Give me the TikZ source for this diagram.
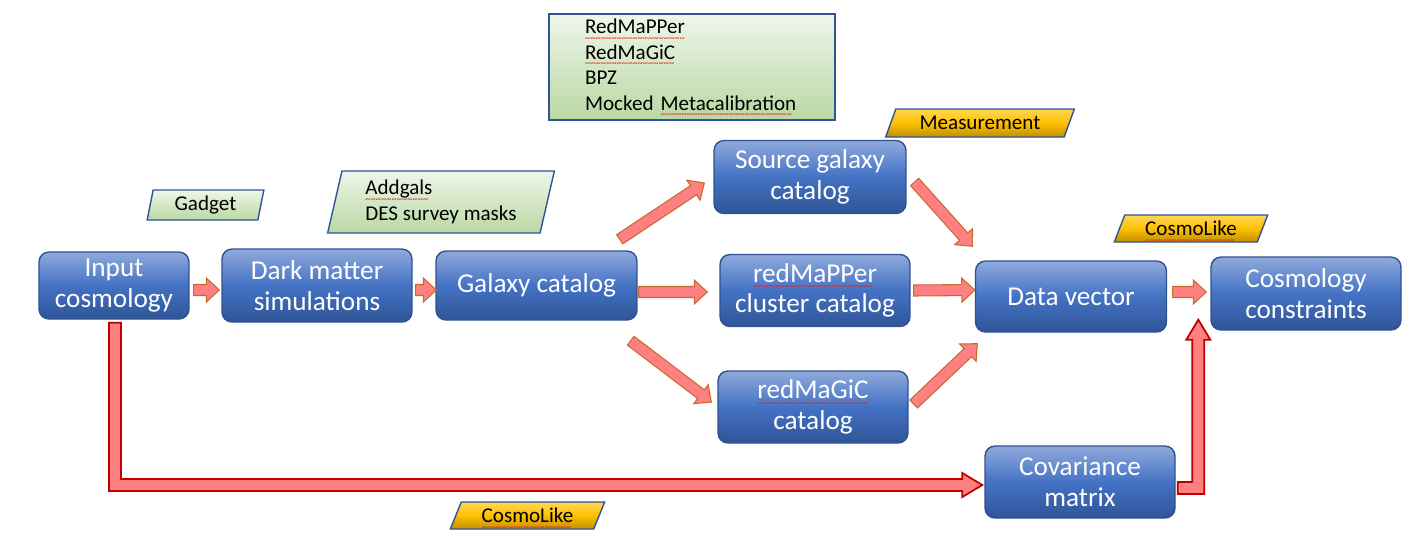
\documentclass[tikz,border=0pt]{standalone}
\usepackage{fontspec}
\setmainfont{Carlito}
\usetikzlibrary{shapes.geometric, calc}

\definecolor{boxtop}{HTML}{8FAADC}
\definecolor{boxmid}{HTML}{4472C4}
\definecolor{boxbot}{HTML}{2F5597}
\definecolor{boxedge}{HTML}{2F528F}
\definecolor{tagedge}{HTML}{2F5597}
\definecolor{greentop}{HTML}{EFF6EA}
\definecolor{greenbot}{HTML}{B9D8A3}
\definecolor{goldtop}{HTML}{FFD755}
\definecolor{goldmid}{HTML}{FFC000}
\definecolor{goldbot}{HTML}{BF8F00}
\definecolor{arrowfill}{HTML}{FF8080}
\definecolor{arrowedge}{HTML}{C86A30}
\definecolor{elbowedge}{HTML}{C00000}
\definecolor{spellred}{HTML}{E02020}

% spell-check wave under a word
\newsavebox{\spellbox}
\newcommand{\spellmark}[1]{%
    \sbox{\spellbox}{#1}%
    \rlap{\raisebox{-4.2pt}[0pt][0pt]{\color{spellred}\fontsize{6}{6}\selectfont
        \leaders\hbox{\textasciitilde}\hskip\wd\spellbox}}%
    \usebox{\spellbox}}

% straight block arrow: [style]{from}{to}
\newcommand{\bashaft}{0.11cm}
\newcommand{\bahead}{0.24cm}
\newcommand{\balen}{0.26cm}
\newcommand{\blockarrow}[3][fatarrow]{%
    \path (#2) coordinate (ba-s) (#3) coordinate (ba-e);
    \path ($(ba-e)!\balen!(ba-s)$) coordinate (ba-h);
    \draw[#1] ($(ba-s)!\bashaft!90:(ba-e)$)
        -- ($(ba-h)!\bashaft!90:(ba-e)$)
        -- ($(ba-h)!\bahead!90:(ba-e)$)
        -- (ba-e)
        -- ($(ba-h)!\bahead!-90:(ba-e)$)
        -- ($(ba-h)!\bashaft!-90:(ba-e)$)
        -- ($(ba-s)!\bashaft!-90:(ba-e)$) -- cycle;
}

% block arrow with one right-angle bend: [style]{from}{|- or -|}{to}
\newcommand{\eashaft}{0.12cm}
\newcommand{\eahead}{0.24cm}
\newcommand{\ealen}{0.4cm}
\newcommand{\elbowarrow}[4][elbow]{%
    \path (#2) coordinate (ea-s) (#4) coordinate (ea-e);
    \path (ea-s #3 ea-e) coordinate (ea-c);
    \path ($(ea-e)!\ealen!(ea-c)$) coordinate (ea-h);
    \draw[#1] ($(ea-s)!\eashaft!90:(ea-c)$)
        -- ($(ea-c)!\eashaft!-90:(ea-s) + (ea-c)!\eashaft!90:(ea-e) - (ea-c)$)
        -- ($(ea-h)!\eashaft!90:(ea-e)$)
        -- ($(ea-h)!\eahead!90:(ea-e)$)
        -- (ea-e)
        -- ($(ea-h)!\eahead!-90:(ea-e)$)
        -- ($(ea-h)!\eashaft!-90:(ea-e)$)
        -- ($(ea-c)!\eashaft!90:(ea-s) + (ea-c)!\eashaft!-90:(ea-e) - (ea-c)$)
        -- ($(ea-s)!\eashaft!-90:(ea-c)$) -- cycle;
}

\begin{document}
\begin{tikzpicture}[
    x=0.02cm, y=-0.02cm, % one unit is one pixel of the layout
    % Styles
    box/.style={ % blue process box
        rectangle,
        rounded corners=2mm,
        draw=boxedge,
        line width=0.8pt,
        top color=boxtop,
        bottom color=boxbot,
        middle color=boxmid,
        text=white,
        font=\fontsize{15.5}{17.5}\selectfont,
        align=center,
        inner sep=0pt
    },
    tag/.style={ % slanted label
        trapezium,
        trapezium stretches=true,
        draw=tagedge,
        line width=0.8pt,
        font=\fontsize{12}{14.6}\selectfont,
        inner sep=0pt
    },
    greentag/.style={
        tag,
        top color=greentop,
        bottom color=greenbot
    },
    goldtag/.style={
        tag,
        top color=goldtop,
        bottom color=goldbot,
        middle color=goldmid
    },
    greenbox/.style={ % list of codes
        rectangle,
        draw=tagedge,
        line width=1pt,
        top color=greentop,
        bottom color=greenbot,
        font=\fontsize{12}{14.6}\selectfont,
        align=left
    },
    fatarrow/.style={
        fill=arrowfill,
        draw=arrowedge,
        line width=0.6pt,
        line join=miter
    },
    elbow/.style={
        fill=arrowfill,
        draw=elbowedge,
        line width=1pt,
        line join=miter
    }
]
    \useasboundingbox (0,0) rectangle (1412,549);

    % Pipeline boxes
    \node[box, minimum width=3.0cm, minimum height=1.34cm] (inp) at (114,285.5) {Input\\cosmology};
    \node[box, minimum width=3.8cm, minimum height=1.46cm] (dms) at (317,285.5) {Dark matter\\simulations};
    \node[box, minimum width=4.02cm, minimum height=1.38cm] (gal) at (536.5,285.5) {Galaxy catalog};
    \node[box, minimum width=3.84cm, minimum height=1.46cm] (src) at (810,177) {Source galaxy\\catalog};
    \node[box, minimum width=3.8cm, minimum height=1.44cm] (rmp) at (815,290.5) {\spellmark{redMaPPer}\\cluster catalog};
    \node[box, minimum width=3.8cm, minimum height=1.44cm] (rmg) at (813,407) {\spellmark{redMaGiC}\\catalog};
    \node[box, minimum width=3.82cm, minimum height=1.42cm] (dv) at (1071,296.5) {Data vector};
    \node[box, minimum width=3.8cm, minimum height=1.46cm] (cc) at (1306,293.5) {Cosmology\\constraints};
    \node[box, minimum width=3.8cm, minimum height=1.44cm] (cov) at (1080,482) {Covariance\\matrix};

    % Tool labels
    \node[greentag, trapezium left angle=79, trapezium right angle=101,
        minimum width=2.34cm, minimum height=0.6cm] (gadget) at (205.5,205) {Gadget};
    \node[greentag, trapezium left angle=76, trapezium right angle=104,
        minimum width=4.56cm, minimum height=1.24cm, align=left] (addgals) at (441,202)
        {\spellmark{Addgals}\\DES survey masks};
    \node[greenbox, text width=5.0cm, inner xsep=0.36cm, inner ysep=0pt, minimum height=2.12cm] (codes) at (692,67)
        {\begin{tabular}{@{\hspace{0.36cm}}l@{}}
            \spellmark{RedMaPPer}\\
            \spellmark{RedMaGiC}\\
            BPZ\\
            Mocked \spellmark{Metacalibration}
        \end{tabular}};
    \node[goldtag, trapezium left angle=62, trapezium right angle=118,
        minimum width=3.8cm, minimum height=0.56cm] (meas) at (980,123) {Measurement};
    \node[goldtag, trapezium left angle=64, trapezium right angle=116,
        minimum width=3.08cm, minimum height=0.54cm] (cl1) at (1191,228.5) {\spellmark{CosmoLike}};
    \node[goldtag, trapezium left angle=63, trapezium right angle=117,
        minimum width=3.1cm, minimum height=0.54cm] (cl2) at (527.5,515.5) {\spellmark{CosmoLike}};

    % Simulation chain
    \blockarrow{[shift={(4,4.5)}]inp.east}{[shift={(-2,4.5)}]dms.west}
    \blockarrow{[shift={(3,4.5)}]dms.east}{[shift={(1,4.5)}]gal.west}

    % Galaxy catalog to the three catalogs
    \blockarrow{[shift={(-18,-11)}]gal.north east}{[shift={(-9,6)}]src.west}
    \blockarrow{[shift={(1,6.5)}]gal.east}{[shift={(-12,1.5)}]rmp.west}
    \blockarrow{[shift={(-7,20)}]gal.south east}{[shift={(-6,-5)}]rmg.west}

    % Catalogs to data vector, then constraints
    \blockarrow{[shift={(8,5)}]src.east}{[shift={(-2.5,-14)}]dv.north west}
    \blockarrow{[shift={(3,0)}]rmp.east}{[shift={(0,-6.5)}]dv.west}
    \blockarrow{[shift={(5,-3)}]rmg.east}{[shift={(2.5,11)}]dv.south west}
    \blockarrow{[shift={(5.5,-4.5)}]dv.east}{[shift={(-4,-1.5)}]cc.west}

    % Covariance branch
    \elbowarrow{[shift={(1,3)}]inp.south}{|-}{[shift={(-2,3)}]cov.west}
    \elbowarrow{[shift={(2,6)}]cov.east}{-|}{[shift={(-12,-11)}]cc.south west}
\end{tikzpicture}
\end{document}
